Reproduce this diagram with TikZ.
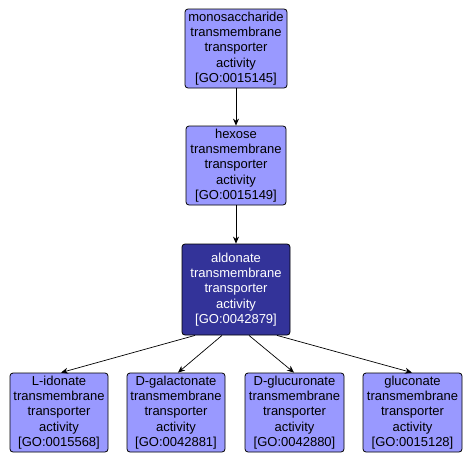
\documentclass[tikz,border=0pt]{standalone}
\usepackage{fontspec}
\setmainfont{Liberation Sans}
\usetikzlibrary{calc,arrows.meta}
\definecolor{lightnode}{HTML}{9999FF}
\definecolor{darknode}{HTML}{333399}
\tikzset{
  term/.style={draw=black, line width=0.8pt, rounded corners=3pt, fill=lightnode,
    align=center, inner sep=0pt, font=\fontsize{13}{15.4}\selectfont},
  darkterm/.style={term, fill=darknode, text=white},
  link/.style={draw=black, line width=0.7pt, -{Stealth[length=7pt,width=6pt]}}
}
\begin{document}
\begin{tikzpicture}[x=1pt,y=-1pt]
\useasboundingbox (0,0) rectangle (473,463);
\node[term, minimum width=102pt, minimum height=79pt] (mono) at (236,48.5)
  {monosaccharide\\transmembrane\\transporter\\activity\\{[GO:0015145]}};
\node[term, minimum width=100pt, minimum height=79pt] (hex) at (236,165.5)
  {hexose\\transmembrane\\transporter\\activity\\{[GO:0015149]}};
\node[darkterm, minimum width=108pt, minimum height=91pt] (ald) at (236,289.5)
  {aldonate\\transmembrane\\transporter\\activity\\{[GO:0042879]}};
\node[term, minimum width=98pt, minimum height=79pt] (lid) at (59,412.5)
  {L-idonate\\transmembrane\\transporter\\activity\\{[GO:0015568]}};
\node[term, minimum width=98pt, minimum height=79pt] (dgal) at (176,412.5)
  {D-galactonate\\transmembrane\\transporter\\activity\\{[GO:0042881]}};
\node[term, minimum width=99pt, minimum height=79pt] (dglu) at (294.5,412.5)
  {D-glucuronate\\transmembrane\\transporter\\activity\\{[GO:0042880]}};
\node[term, minimum width=99pt, minimum height=79pt] (glc) at (412.5,412.5)
  {gluconate\\transmembrane\\transporter\\activity\\{[GO:0015128]}};
\draw[link] (mono.south) -- (hex.north);
\draw[link] (hex.south) -- (ald.north);
\draw[link] ($(ald.south)+(-41,0)$) -- ($(lid.north)+(2,0)$);
\draw[link] ($(ald.south)+(-14,0)$) -- ($(dgal.north)+(2,0)$);
\draw[link] ($(ald.south)+(13,0)$) -- ($(dglu.north)+(-0.5,0)$);
\draw[link] ($(ald.south)+(41,0)$) -- ($(glc.north)+(-0.5,0)$);
\end{tikzpicture}
\end{document}
